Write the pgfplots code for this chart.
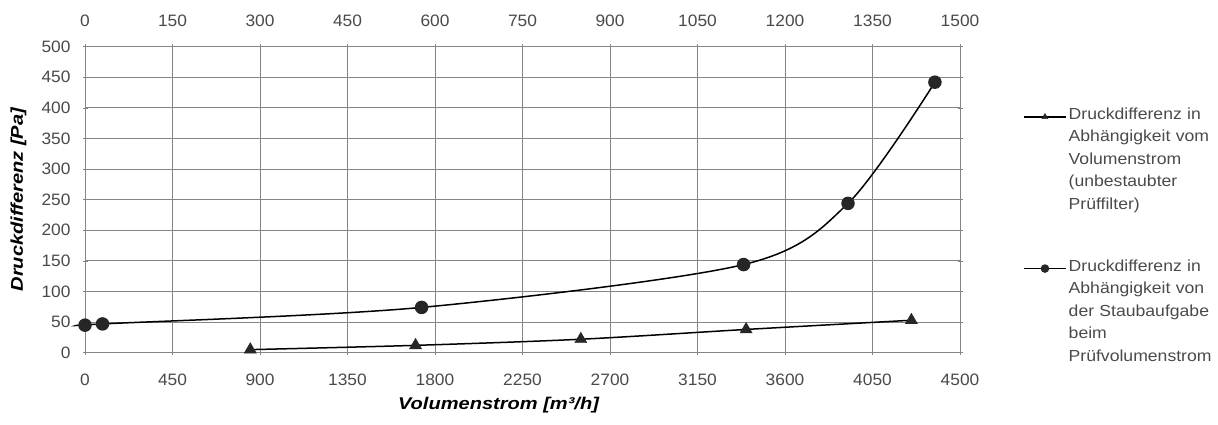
\documentclass[border=0pt]{standalone}
\usepackage{fontspec}
\setmainfont{Liberation Sans}
\newfontfamily\tickfont{Liberation Sans}[FakeStretch=1.05]
\newfontfamily\legfont{Liberation Sans}[FakeStretch=1.1]
\newfontfamily\labfont{Liberation Sans}[FakeStretch=1.18]
\usepackage{pgfplots}
\pgfplotsset{compat=1.18}

\definecolor{gridgray}{HTML}{858585}
\definecolor{ticktext}{HTML}{4A4A4A}
\definecolor{markdark}{HTML}{262626}

\pgfplotsset{
  common/.style={
    scale only axis,
    width=875pt, height=306pt,
    at={(85pt,72.3pt)}, anchor=south west,
    ymin=0, ymax=500,
    clip=false,
    /pgf/number format/assume math mode=true,
    /pgf/number format/1000 sep={},
    ticklabel style={font=\tickfont\fontsize{16.5}{18}\selectfont, text=ticktext},
    tick style={gridgray, line width=0.6pt},
    major tick length=5pt,
    tick align=center,
    axis line style={gridgray, line width=0.8pt},
    legend cell align=left,
    legend image code/.code={
      \draw[mark repeat=2, mark phase=2, mark size=3.5pt]
        plot coordinates {(0pt,2.5pt) (21pt,2.5pt) (42pt,2.5pt)};
    },
  },
  legbox/.style={draw=none, fill=none, inner sep=0pt,
      at={(axis description cs:1.072,#1)}, anchor=north west,
      column sep=2pt,
      cells={anchor=base west},
      nodes={inner sep=0pt, text width=150pt, align=left,
             font=\legfont\fontsize{16}{22.5}\selectfont, text=ticktext}},
}

\begin{document}
\begin{tikzpicture}
\useasboundingbox (0,0) rectangle (1218pt,425pt);

% Volumenstrom axis (bottom), unbestaubter Prueffilter
\begin{axis}[common,
    xmin=0, xmax=4500, xtick distance=450,
    ytick distance=50,
    axis x line*=bottom,
    grid=major,
    major grid style={gridgray, line width=0.8pt},
    xticklabel shift=15pt,
    yticklabel shift=8.5pt,
    xlabel={Volumenstrom [m³/h]},
    ylabel={Druckdifferenz [Pa]},
    label style={font=\labfont\bfseries\itshape\fontsize{17}{20}\selectfont, text=black},
    xlabel style={at={(axis description cs:0.4726,-0.171)}, anchor=center},
    ylabel style={at={(axis description cs:-0.076,0.5)}, anchor=center},
    legend style={legbox=0.8008},
  ]
  \addplot[black, line width=1.5pt, smooth, mark=triangle*, mark size=7pt,
           mark options={fill=markdark, draw=markdark, line width=0.4pt}]
    coordinates {(850,5) (1700,12) (2550,22) (3400,38) (4250,53)};
  \addlegendentry{Druckdifferenz in\\Abhängigkeit vom\\Volumenstrom\\(unbestaubter\\Prüffilter)}
\end{axis}

% Staubaufgabe axis (top)
\begin{axis}[common,
    xmin=0, xmax=1500, xtick distance=150,
    axis x line*=top,
    axis y line*=right,
    ytick=\empty,
    xticklabel shift=14pt,
    legend style={legbox=0.3053},
  ]
  \addplot[black, line width=1.5pt, smooth, mark=*, mark size=6pt,
           mark options={fill=markdark, draw=markdark}]
    coordinates {(0,45) (30,47) (577,74) (1129,144) (1308,244) (1457,442)};
  \addlegendentry{Druckdifferenz in\\Abhängigkeit von\\der Staubaufgabe\\beim\\Prüfvolumenstrom}
\end{axis}
\end{tikzpicture}
\end{document}
